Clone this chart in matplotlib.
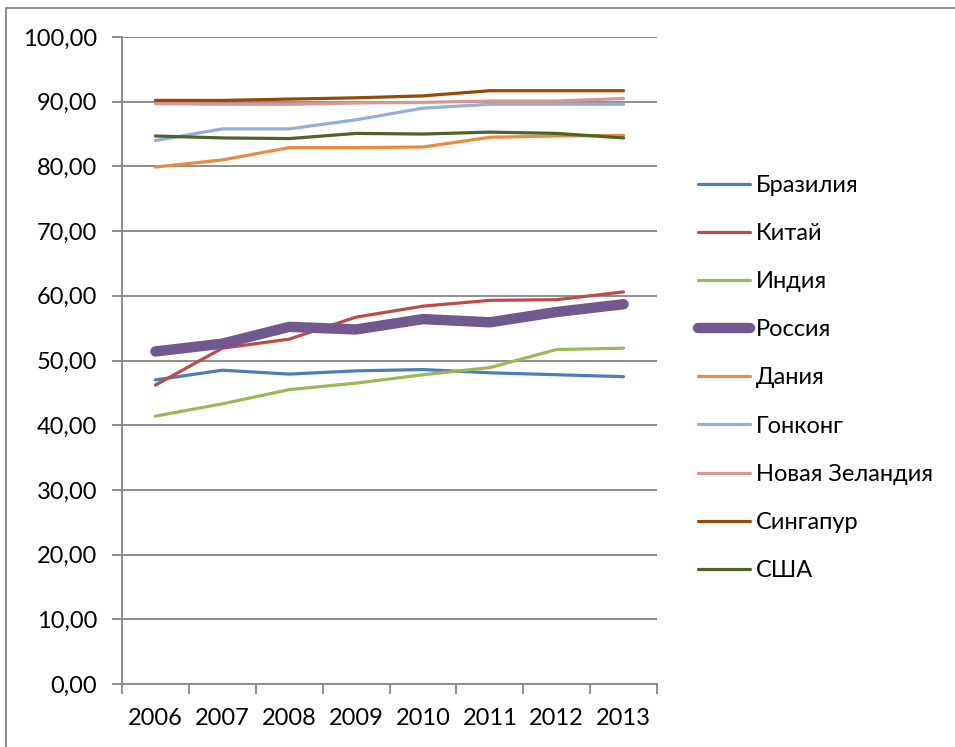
import matplotlib
matplotlib.use("Agg")
import matplotlib.pyplot as plt
from matplotlib.patches import Rectangle
from matplotlib.ticker import FuncFormatter

years = ["2006", "2007", "2008", "2009", "2010", "2011", "2012", "2013"]

brazil = [47.0, 48.5, 47.9, 48.4, 48.6, 48.1, 47.8, 47.5]
china = [46.2, 51.9, 53.3, 56.7, 58.4, 59.3, 59.4, 60.6]
india = [41.4, 43.3, 45.5, 46.5, 47.8, 48.9, 51.7, 51.9]
russia = [51.4, 52.6, 55.2, 54.8, 56.4, 55.9, 57.5, 58.7]
denmark = [79.9, 81.0, 82.9, 82.9, 83.0, 84.5, 84.7, 84.8]
hongkong = [84.0, 85.8, 85.8, 87.2, 89.0, 89.6, 89.6, 89.6]
newzealand = [89.7, 89.6, 89.6, 89.8, 89.9, 90.1, 90.1, 90.5]
singapore = [90.2, 90.2, 90.4, 90.6, 90.9, 91.7, 91.7, 91.7]
usa = [84.7, 84.4, 84.3, 85.1, 85.0, 85.3, 85.1, 84.4]

series = [
    ("Бразилия", brazil, "#4A7EBB", 2.3),
    ("Китай", china, "#BE4B48", 2.3),
    ("Индия", india, "#98B954", 2.3),
    ("Россия", russia, "#71588F", 7.5),
    ("Дания", denmark, "#EC8A3E", 2.3),
    ("Гонконг", hongkong, "#93AEDA", 2.3),
    ("Новая Зеландия", newzealand, "#D99694", 2.3),
    ("Сингапур", singapore, "#984807", 2.3),
    ("США", usa, "#4F6228", 2.3),
]

plt.rcParams["font.family"] = ["Lato", "DejaVu Sans"]
fig = plt.figure(figsize=(9.55, 7.47), dpi=100)
ax = fig.add_axes([122 / 955, 1 - 684 / 747, 535 / 955, 647 / 747])

x = list(range(len(years)))
for name, vals, color, lw in series:
    ax.plot(x, vals, color=color, lw=lw, label=name,
            solid_capstyle="round", solid_joinstyle="round")

ax.set_ylim(0, 100)
ax.set_xlim(-0.5, len(years) - 0.5)
ax.set_yticks(range(0, 101, 10))
ax.yaxis.set_major_formatter(FuncFormatter(lambda v, p: f"{v:.2f}".replace(".", ",")))
# ticks sit between categories, labels at the centres
ax.set_xticks([i - 0.5 for i in range(len(years) + 1)])
ax.set_xticklabels([])
ax.set_xticks(x, minor=True)
ax.set_xticklabels(years, minor=True)
ax.tick_params(axis="x", which="minor", length=0, pad=17, labelsize=17)
ax.tick_params(axis="x", which="major", length=7, width=1.3, color="#868686")
ax.tick_params(axis="y", length=7, width=1.3, color="#868686", pad=11, labelsize=17)

ax.grid(axis="y", color="#868686", lw=1.3)
ax.set_axisbelow(True)
for s in ["top", "right"]:
    ax.spines[s].set_visible(False)
for s in ["left", "bottom"]:
    ax.spines[s].set_color("#868686")
    ax.spines[s].set_linewidth(1.3)

ax.legend(loc="center left", bbox_to_anchor=(698 / 955, 1 - 378 / 747),
          bbox_transform=fig.transFigure, frameon=False, fontsize=17,
          handlelength=2.2, handletextpad=0.25, labelspacing=1.15,
          borderpad=0, borderaxespad=0)

fig.patches.append(Rectangle((6 / 955, -0.01), 1.0, 1 - 8 / 747 + 0.01,
                             transform=fig.transFigure, fill=False,
                             edgecolor="#868686", lw=1.3))

fig.savefig("out.png", dpi=100)
